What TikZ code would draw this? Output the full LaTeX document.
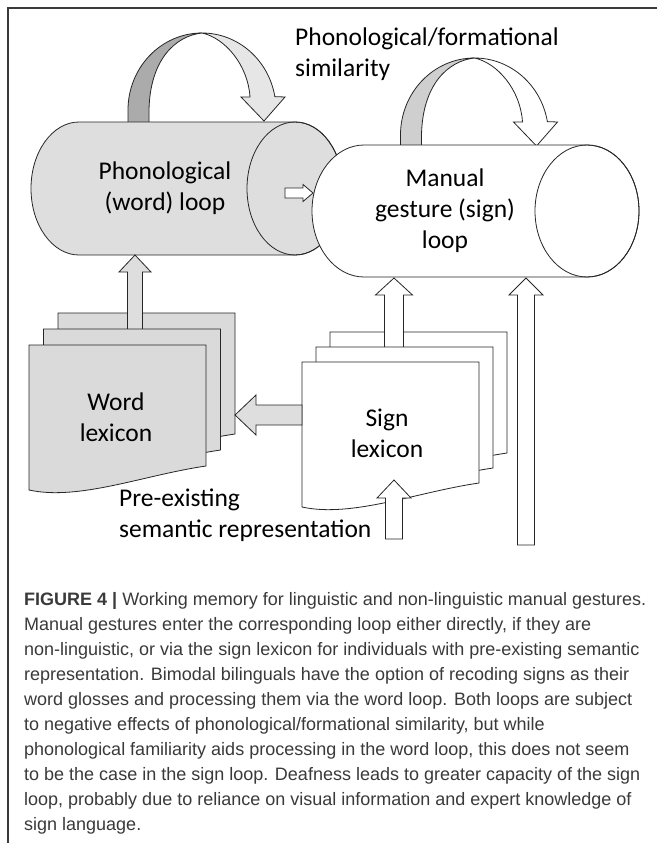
\documentclass[tikz,border=0pt]{standalone}
\usepackage{fontspec}
\setmainfont{Carlito}
\newfontfamily\capfont{Liberation Sans}
\usetikzlibrary{calc}
\definecolor{cylfill}{HTML}{DEDEDE}
\definecolor{pagefill}{HTML}{DADADA}
\definecolor{darkband}{HTML}{ABABAB}
\definecolor{lightband}{HTML}{E6E6E6}
\definecolor{darkbandb}{HTML}{CFCFCF}
\definecolor{framecol}{HTML}{3A3A3A}
\definecolor{captext}{HTML}{3A3A3A}
\tikzset{
  outl/.style={draw=black!85, line width=0.8pt},
  lbl/.style={inner sep=0pt, align=center, font=\fontsize{25.5}{31}\selectfont},
}
\newcommand\cyl[6]{%
  \filldraw[outl,fill=#1] (#2,#4+#6) -- (#3,#4+#6)
    arc[start angle=90,end angle=-90,x radius=#5pt,y radius=#6pt] -- (#2,#4-#6)
    arc[start angle=270,end angle=90,x radius=#5pt,y radius=#6pt] -- cycle;
  \draw[outl] (#3,#4) ellipse[x radius=#5pt,y radius=#6pt];}
\newcommand\looparr[3]{%
  \begin{scope}[shift={#1}]
    \filldraw[outl,fill=#2] (128,-126) -- (128,-110)
      arc[start angle=180,end angle=90,x radius=74pt,y radius=77pt]
      .. controls (175,-36) and (150,-60) .. (149,-110) -- (149,-126) -- cycle;
    \filldraw[outl,fill=#3] (202,-33)
      arc[start angle=90,end angle=10,x radius=74pt,y radius=77pt]
      -- (285,-97) -- (264,-121) -- (241,-97) -- (250,-97)
      .. controls (248,-65) and (225,-38) .. (202,-33) -- cycle;
  \end{scope}}
\newcommand\docpage[2]{%
  \filldraw[outl,fill=#1,shift={#2}] (0,0) -- (177,0) -- (177,-121)
    .. controls (115,-130) and (50,-156) .. (0,-145) -- cycle;}
\newcommand\blockarr[7]{%
  \filldraw[outl,fill=#1,shift={#2},rotate=#3] (0,0) -- (#6,-#7) -- (#5,-#7)
    -- (#5,-#4) -- (-#5,-#4) -- (-#5,-#7) -- (-#6,-#7) -- cycle;}
\begin{document}
\begin{tikzpicture}[x=1pt,y=1pt]
\useasboundingbox (0,0) rectangle (657,-843);
\fill[white] (0,0) rectangle (657,-843);
\draw[framecol,line width=1.4pt] (8,-843) -- (8,-8) -- (657,-8);

% named anchor points
\coordinate (wlTop) at (135,-255);
\coordinate (slTop) at (394,-278);
\coordinate (directTop) at (526,-278);
\coordinate (semTop) at (394,-480);
\coordinate (wlSide) at (235,-415);
\coordinate (cylJoin) at (313,-193);

% left loop and cylinder
\looparr{(0,0)}{darkband}{lightband}
\cyl{cylfill}{79}{295}{-188.5}{48}{66.5}
\blockarr{white}{(cylJoin)}{-90}{28}{5}{8.5}{10}
% right loop and cylinder
\looparr{(272.5,-25)}{darkbandb}{white}
\cyl{white}{364}{587}{-211}{52}{66}

% word lexicon
\docpage{pagefill}{(58,-313)}
\blockarr{cylfill}{(wlTop)}{0}{80}{7.5}{16}{17}
\docpage{pagefill}{(43.5,-329)}
\docpage{pagefill}{(29,-345)}

% sign lexicon
\docpage{white}{(330,-332)}
\blockarr{white}{(slTop)}{0}{72}{9.5}{18.5}{17}
\docpage{white}{(316,-347)}
\docpage{white}{(302,-362)}

\blockarr{cylfill}{(wlSide)}{90}{67}{10}{20}{21}
\blockarr{white}{(semTop)}{0}{59}{8.5}{17}{18}
\blockarr{white}{(directTop)}{0}{267}{8.5}{17}{17}

% labels
\node[lbl,align=left,anchor=north west] (simlabel) at (295,-28) {Phonological/formational\\similarity};
\node[lbl] (phon) at (165,-188) {Phonological\\(word) loop};
\node[lbl] (manual) at (445,-211) {Manual\\gesture (sign)\\loop};
\node[lbl] (word) at (116,-417) {Word\\lexicon};
\node[lbl] (sign) at (387,-433) {Sign\\lexicon};
\node[lbl,align=left,anchor=west] (sem) at (119,-515) {Pre-existing\\semantic representation};

\node[inner sep=0pt,anchor=north west,align=left,text=captext,
      font=\capfont\fontsize{18}{25}\selectfont] (caption) at (24,-592)
{\textbf{FIGURE 4 |} Working memory for linguistic and non-linguistic manual gestures.\\
Manual gestures enter the corresponding loop either directly, if they are\\
non-linguistic, or via the sign lexicon for individuals with pre-existing semantic\\
representation. Bimodal bilinguals have the option of recoding signs as their\\
word glosses and processing them via the word loop. Both loops are subject\\
to negative effects of phonological/formational similarity, but while\\
phonological familiarity aids processing in the word loop, this does not seem\\
to be the case in the sign loop. Deafness leads to greater capacity of the sign\\
loop, probably due to reliance on visual information and expert knowledge of\\
sign language.};
\end{tikzpicture}
\end{document}
